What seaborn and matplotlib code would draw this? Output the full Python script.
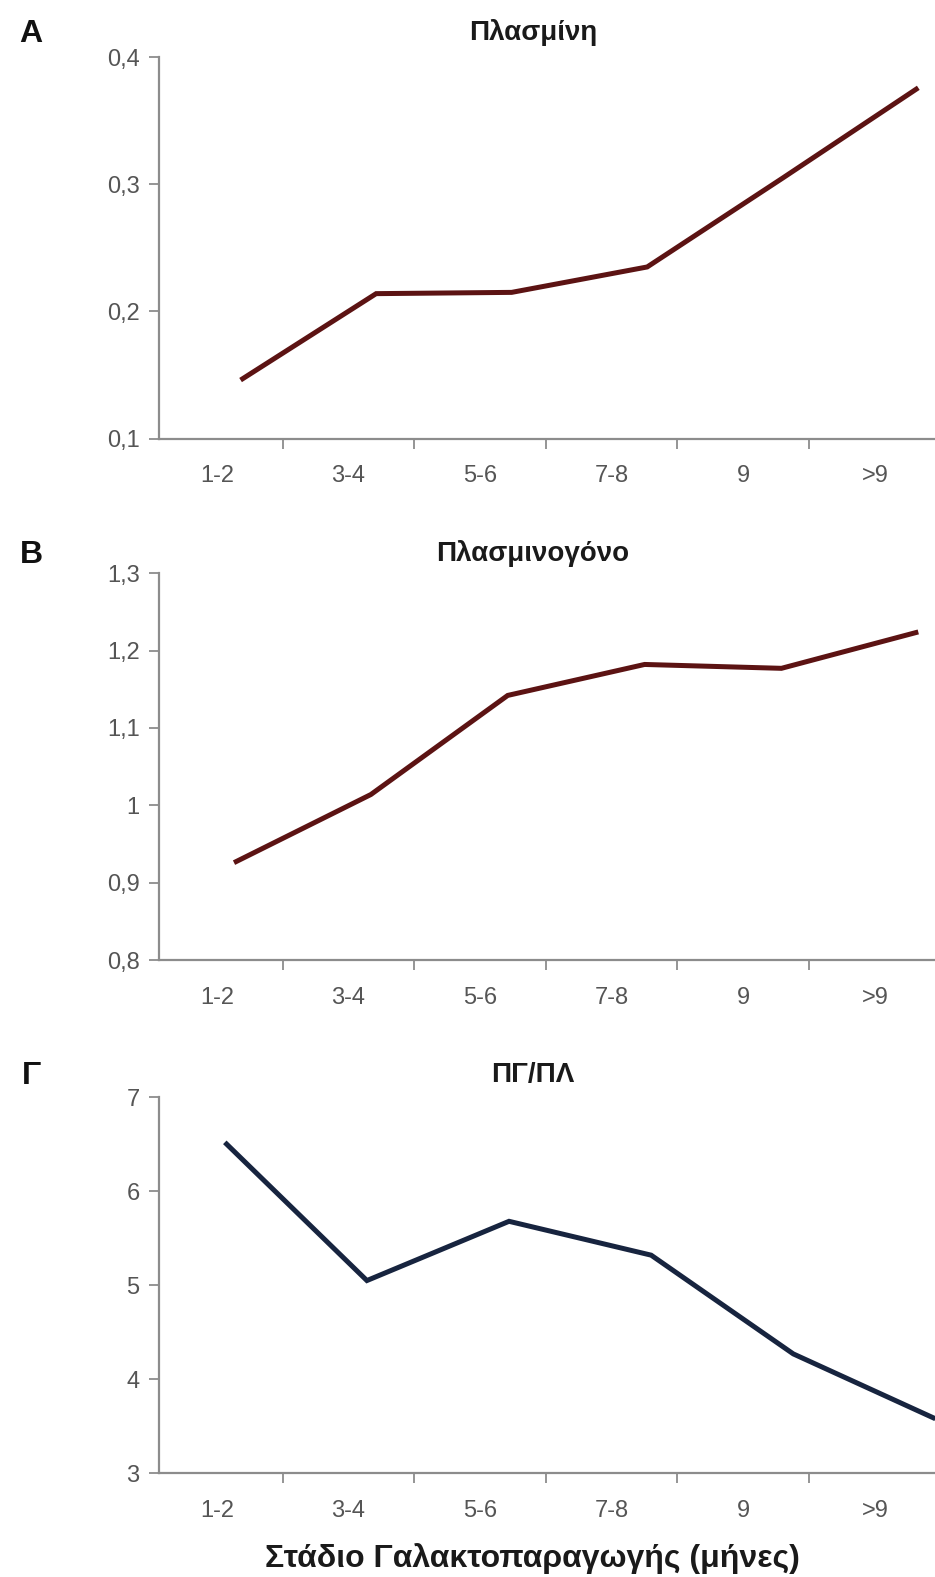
import numpy as np
import pandas as pd
import seaborn as sns
import matplotlib.pyplot as plt
from matplotlib import font_manager

# ---- data ----
stages = ["1-2", "3-4", "5-6", "7-8", "9", ">9"]
plasmin = [0.146, 0.214, 0.215, 0.235, 0.305, 0.376]
plasminogen = [0.926, 1.014, 1.142, 1.182, 1.177, 1.224]
pg_pl_ratio = [6.52, 5.05, 5.68, 5.32, 4.27, 3.58]

titles = ["Πλασμίνη", "Πλασμινογόνο", "ΠΓ/ΠΛ"]
letters = ["A", "B", "Γ"]
xlabel = "Στάδιο Γαλακτοπαραγωγής (μήνες)"

sns.set_style("white")
names = {f.name for f in font_manager.fontManager.ttflist}
narrow = "Liberation Sans Narrow" if "Liberation Sans Narrow" in names else "Liberation Sans"
plt.rcParams["font.family"] = [narrow, "Liberation Sans", "DejaVu Sans"]

W, H = 935, 1577
fig = plt.figure(figsize=(W / 100, H / 100), dpi=100)

def frac_box(top_px, bottom_px, left_px=159, right_px=935):
    return [left_px / W, 1 - bottom_px / H, (right_px - left_px) / W, (bottom_px - top_px) / H]

panels = [
    dict(vals=plasmin, ylim=(0.1, 0.4), yt=[0.1, 0.2, 0.3, 0.4], box=(57.3, 438.5),
         color="#5c1313", x0=0.18, step=1.03, ty=33),
    dict(vals=plasminogen, ylim=(0.8, 1.3), yt=[0.8, 0.9, 1.0, 1.1, 1.2, 1.3], box=(573.1, 960.2),
         color="#5c1313", x0=0.13, step=1.04, ty=554),
    dict(vals=pg_pl_ratio, ylim=(3, 7), yt=[3, 4, 5, 6, 7], box=(1097.2, 1473.3),
         color="#17243f", x0=0.06, step=1.08, ty=1075),
]

axis_gray = "#8c8c8c"
label_gray = "#555555"

for i, p in enumerate(panels):
    ax = fig.add_axes(frac_box(*p["box"]))
    idx = np.arange(len(stages))
    df = pd.DataFrame({"x": p["x0"] + p["step"] * idx, "y": p["vals"]})
    sns.lineplot(data=df, x="x", y="y", ax=ax, color=p["color"], linewidth=3.6,
                 solid_joinstyle="miter", solid_capstyle="butt")
    ax.set_xlim(-0.44, 5.457)
    ax.set_ylim(*p["ylim"])
    ax.set_yticks(p["yt"])
    ax.set_yticklabels([("%g" % v).replace(".", ",") for v in p["yt"]])
    ax.set_xticks(idx)
    ax.set_xticklabels(stages)
    ax.set_xticks(idx[:-1] + 0.5, minor=True)
    ax.set_xlabel("")
    ax.set_ylabel("")
    for s in ["top", "right"]:
        ax.spines[s].set_visible(False)
    for s in ["left", "bottom"]:
        ax.spines[s].set_color(axis_gray)
        ax.spines[s].set_linewidth(1.6)
    ax.tick_params(axis="y", which="major", length=7, width=1.3, color=axis_gray,
                   pad=7, labelsize=17, labelcolor=label_gray, left=True, direction="out")
    ax.tick_params(axis="x", which="major", length=0, pad=19, labelsize=17,
                   labelcolor=label_gray, bottom=True)
    ax.tick_params(axis="x", which="minor", length=7, width=1.3, color=axis_gray,
                   bottom=True, direction="out")
    ax.patch.set_alpha(0)

    fig.text(533 / W, 1 - p["ty"] / H, titles[i], ha="center", va="center",
             fontsize=20, fontweight="bold", color="#1a1a1a")
    fig.text(31 / W, 1 - (p["ty"] + 1) / H, letters[i], ha="center", va="center",
             fontsize=23, fontweight="bold", color="#111111",
             family=["Liberation Sans", "DejaVu Sans"])

fig.text(532 / W, 1 - 1559 / H, xlabel, ha="center", va="center",
         fontsize=23, fontweight="bold", color="#1a1a1a")

fig.savefig("out.png", dpi=100, facecolor="white")
